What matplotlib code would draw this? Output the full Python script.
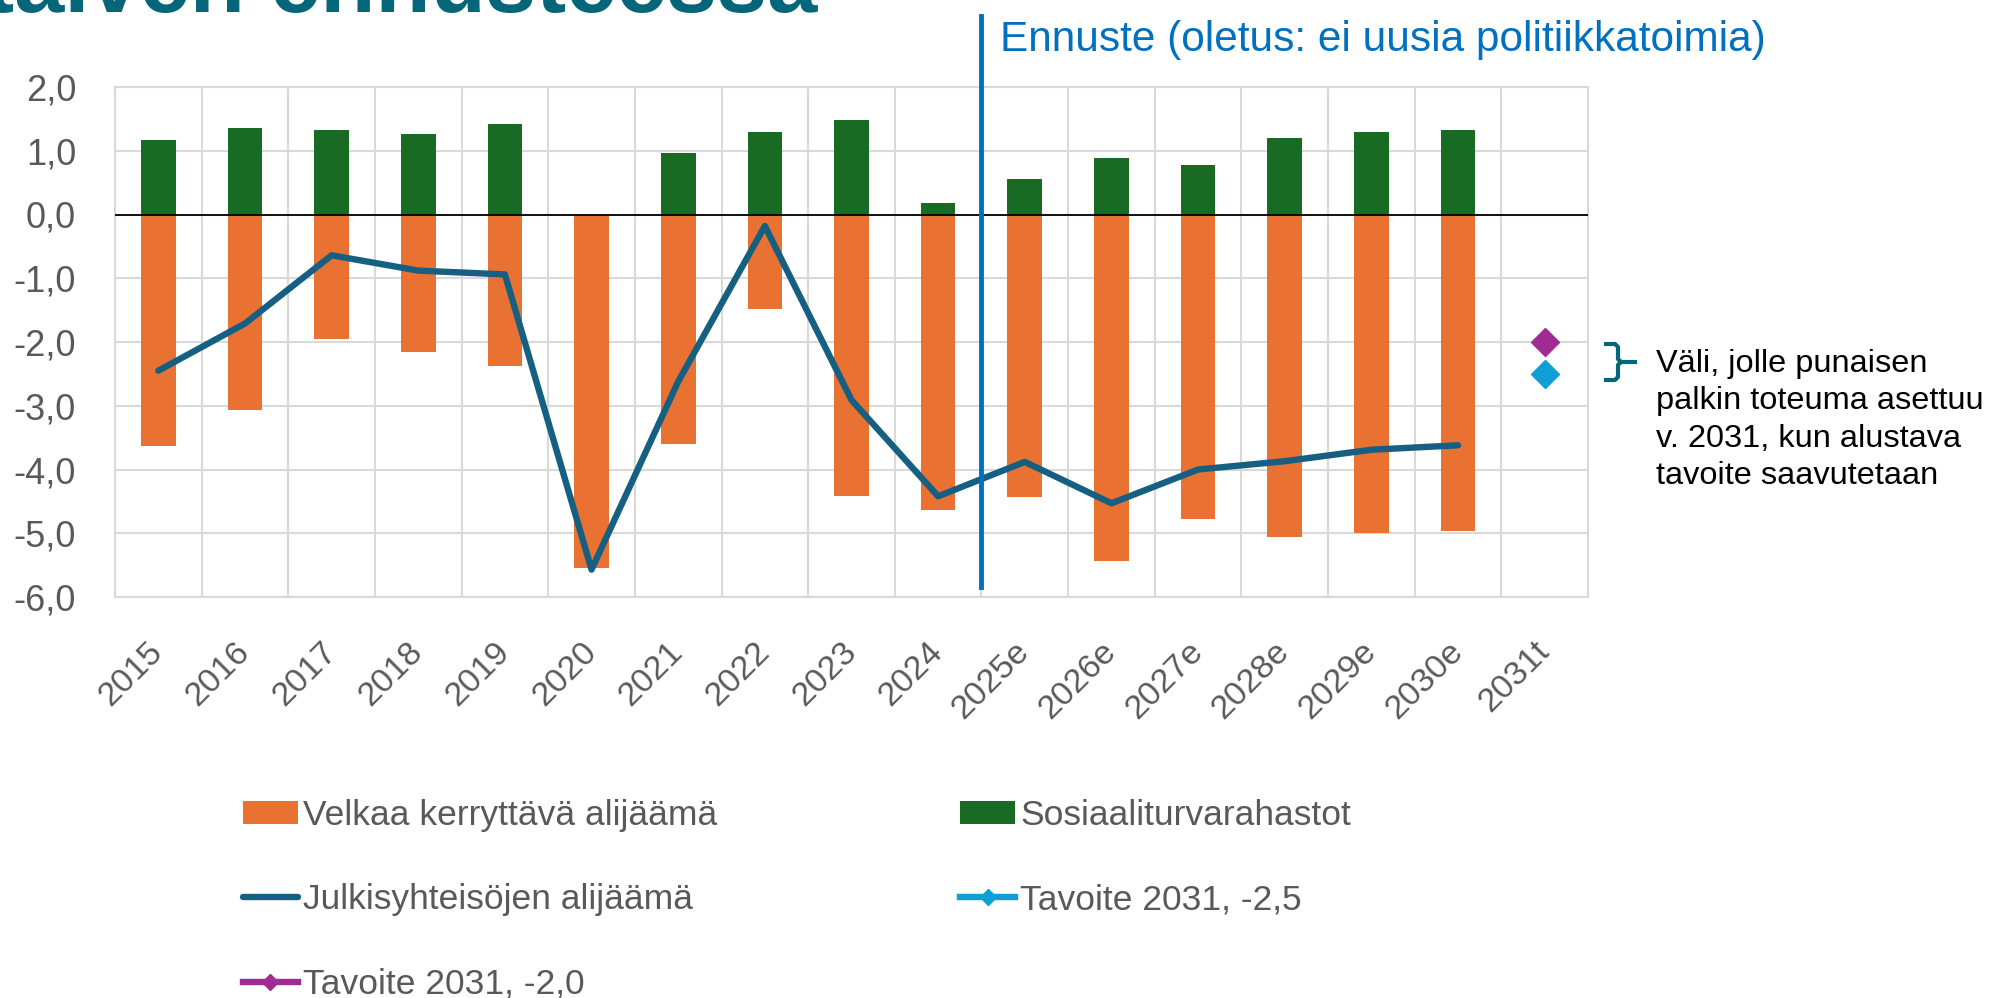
import matplotlib.pyplot as plt
import numpy as np

# %% Data
years = ["2015", "2016", "2017", "2018", "2019", "2020", "2021", "2022",
         "2023", "2024", "2025e", "2026e", "2027e", "2028e", "2029e",
         "2030e", "2031t"]
velka = [-3.63, -3.07, -1.96, -2.16, -2.38, -5.55, -3.60, -1.49, -4.41,
         -4.63, -4.43, -5.43, -4.78, -5.06, -5.00, -4.96, np.nan]
sote = [1.17, 1.35, 1.33, 1.27, 1.42, 0.0, 0.96, 1.29, 1.48, 0.18, 0.56,
        0.89, 0.78, 1.20, 1.30, 1.33, np.nan]
julki = [-2.45, -1.71, -0.64, -0.88, -0.94, -5.57, -2.62, -0.18, -2.91,
         -4.42, -3.88, -4.53, -4.00, -3.87, -3.69, -3.62, np.nan]
tavoite_25 = [np.nan] * 16 + [-2.5]
tavoite_20 = [np.nan] * 16 + [-2.0]
y_ticks = [2, 1, 0, -1, -2, -3, -4, -5, -6]

labels = ["Velkaa kerryttävä alijäämä", "Sosiaaliturvarahastot",
          "Julkisyhteisöjen alijäämä", "Tavoite 2031, -2,5",
          "Tavoite 2031, -2,0"]
forecast_title = "Ennuste (oletus: ei uusia politiikkatoimia)"
note = "Väli, jolle punaisen\npalkin toteuma asettuu\nv. 2031, kun alustava\ntavoite saavutetaan"
page_title = "talven ennusteessa"

# %% Style
plt.rcParams["font.family"] = ["Liberation Sans", "DejaVu Sans"]
orange = "#E97132"
green = "#196B24"
navy = "#156082"
cyan = "#0F9ED5"
purple = "#A02B93"
blue = "#0070C0"
teal = "#05667A"
grey_txt = "#595959"
grid_c = "#D9D9D9"

W, H = 2003, 998
fig = plt.figure(figsize=(W / 100, H / 100), dpi=100)
ax = fig.add_axes([115 / W, 1 - 597 / H, (1588 - 115) / W, (597 - 87) / H])

x = np.arange(len(years))

# %% Bars, line and target markers
b1 = ax.bar(x, velka, 0.4, color=orange, zorder=2)
b2 = ax.bar(x, sote, 0.4, color=green, zorder=2)
ax.axhline(0, color="black", lw=1.3, zorder=3)
(l1,) = ax.plot(x, julki, color=navy, lw=4.6, solid_capstyle="round",
                solid_joinstyle="round", zorder=4)
(l2,) = ax.plot(x, tavoite_25, color=cyan, lw=4.6, marker="D", ms=14, zorder=4)
(l3,) = ax.plot(x, tavoite_20, color=purple, lw=4.6, marker="D", ms=14, zorder=4)

# forecast divider
ax.plot([9.5, 9.5], [-5.85, 3.11], color=blue, lw=3.5, clip_on=False, zorder=5)

# %% Axes
ax.set_xlim(-0.5, 16.5)
ax.set_ylim(-6, 2)
ax.set_yticks(y_ticks)
ax.set_yticklabels([f"{v:.1f}".replace(".", ",") for v in y_ticks])
ax.set_xticks(x)
ax.set_xticklabels(years, rotation=45, ha="right", va="center",
                   rotation_mode="anchor")
ax.set_xticks(np.arange(-0.5, 17, 1), minor=True)
ax.tick_params(axis="y", length=0, pad=28, labelsize=26, labelcolor=grey_txt)
ax.tick_params(axis="x", which="both", length=0, pad=36, labelsize=24.5,
               labelcolor=grey_txt)
ax.grid(axis="y", which="major", color=grid_c, lw=1.5, zorder=0)
ax.grid(axis="x", which="minor", color=grid_c, lw=1.5, zorder=0)
ax.set_axisbelow(True)
for s in ax.spines.values():
    s.set_color(grid_c)
    s.set_linewidth(1.5)

# %% Texts
fig.text(817 / W, 1 - 12 / H, page_title, ha="right", va="baseline",
         fontsize=65, fontweight="bold", color=teal)
fig.text(1000 / W, 1 - 51 / H, forecast_title, ha="left", va="baseline",
         fontsize=30.5, color=blue)
fig.text(1656 / W, 1 - 349 / H, note, ha="left", va="top", fontsize=23.4,
         color="black", linespacing=1.32)

# bracket next to the target markers
bx = [1606, 1615, 1618, 1618, 1621, 1618, 1618, 1615, 1606]
by = [344, 344, 347, 359, 362, 365, 377, 380, 380]
fig.add_artist(plt.Line2D([v / W for v in bx], [1 - v / H for v in by],
                          color=teal, lw=3, transform=fig.transFigure))
fig.add_artist(plt.Line2D([1621 / W, 1635 / W], [1 - 362 / H, 1 - 362 / H],
                          color=teal, lw=3, transform=fig.transFigure))

# %% Legend
fig.legend([b1, l1, l3, b2, l2],
           [labels[0], labels[2], labels[4], labels[1], labels[3]],
           ncol=2, loc="upper left", bbox_to_anchor=(243 / W, 1 - 799 / H),
           frameon=False, fontsize=25.5, labelcolor=grey_txt, borderpad=0,
           borderaxespad=0, handlelength=1.55, handleheight=0.63,
           handletextpad=0.15, labelspacing=1.45, columnspacing=6.85,
           markerscale=0.55)

fig.savefig("out.png", dpi=100)
